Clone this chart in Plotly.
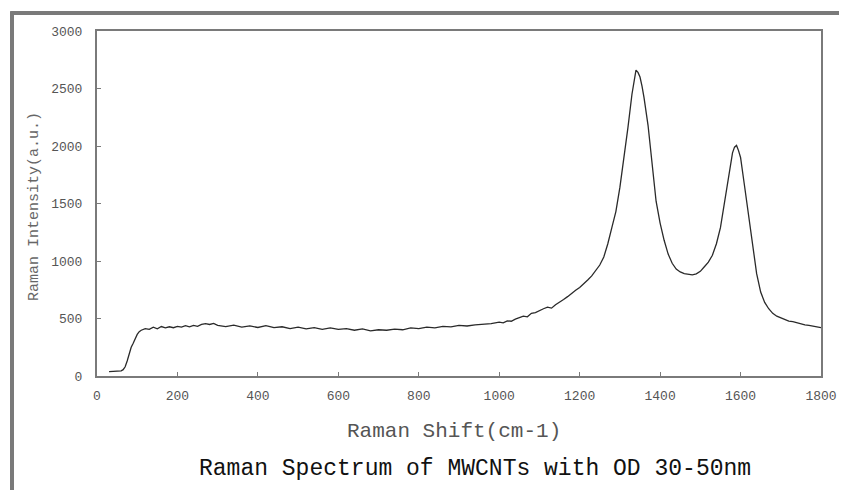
import plotly.graph_objects as go

raman_shift = [30, 40, 50, 60, 65, 70, 75, 80, 85, 90, 95, 100, 105, 110, 120, 130, 140, 150, 160, 170,
               180, 190, 200, 210, 220, 230, 240, 250, 260, 270, 280, 290, 300, 320, 340, 360, 380, 400,
               420, 440, 460, 480, 500, 520, 540, 560, 580, 600, 620, 640, 660, 680, 700, 720, 740, 760,
               780, 800, 820, 840, 860, 880, 900, 920, 940, 960, 980, 1000, 1010, 1020, 1030, 1040, 1050,
               1060, 1070, 1080, 1090, 1100, 1110, 1120, 1130, 1140, 1150, 1160, 1170, 1180, 1190,
               1200, 1210, 1220, 1230, 1240, 1250, 1260, 1270, 1280, 1290, 1300,
               1310, 1320, 1330, 1335, 1340, 1345, 1350, 1355, 1360, 1370, 1380, 1390, 1400, 1410, 1420,
               1430, 1440, 1450, 1460, 1470, 1480, 1490, 1500, 1510, 1520, 1530, 1540, 1550, 1560, 1570,
               1580, 1585, 1590, 1595, 1600, 1610, 1620, 1630, 1640, 1650, 1660, 1670, 1680, 1690, 1700,
               1710, 1720, 1730, 1740, 1750, 1760, 1770, 1780, 1790, 1800]
intensity = [38, 42, 40, 45, 55, 80, 130, 190, 250, 285, 330, 362, 385, 398, 412, 405, 425, 410, 430, 418,
             428, 420, 432, 425, 438, 428, 440, 432, 448, 455, 448, 458, 440, 430, 442, 425, 435, 422,
             438, 420, 428, 412, 425, 410, 420, 405, 418, 405, 412, 398, 410, 392, 402, 398, 408, 402,
             418, 412, 425, 418, 432, 428, 440, 435, 445, 450, 455, 468, 462, 480, 476, 495, 505,
             520, 515, 545, 552, 570, 585, 598, 590, 620, 640, 665, 690, 720, 745,
             770, 800, 835, 870, 915, 965, 1035, 1150, 1290, 1430, 1640,
             1890, 2160, 2450, 2560, 2660, 2640, 2600, 2520, 2420, 2180, 1820, 1520, 1330, 1180, 1060,
             980, 930, 905, 890, 885, 880, 888, 910, 950, 990, 1050, 1150, 1290, 1510, 1760,
             1940, 1990, 2005, 1960, 1900, 1650, 1380, 1130, 890, 730, 640, 585, 545, 520, 505,
             492, 478, 472, 462, 455, 445, 440, 432, 428, 420]

x_ticks = [0, 200, 400, 600, 800, 1000, 1200, 1400, 1600, 1800]
y_ticks = [0, 500, 1000, 1500, 2000, 2500, 3000]

title_text = "Raman Spectrum of MWCNTs with OD 30-50nm"
x_title = "Raman Shift(cm-1)"
y_title = "Raman Intensity(a.u.)"

fig = go.Figure()
fig.add_trace(go.Scatter(x=raman_shift, y=intensity, mode="lines",
                         line=dict(color="#2a2a2a", width=1.3), showlegend=False,
                         hoverinfo="x+y"))

axis_common = dict(showgrid=False, zeroline=False, showline=True, linecolor="#7a7a7a",
                   linewidth=2, mirror=True, ticks="inside", ticklen=4, tickcolor="#7a7a7a",
                   tickfont=dict(family="Liberation Mono", size=13, color="#555555"))

fig.update_xaxes(range=[0, 1800], tickvals=x_ticks, ticklabelstandoff=6, **axis_common)
fig.update_yaxes(range=[0, 3000], tickvals=y_ticks, ticklabelstandoff=10, **axis_common)

fig.update_layout(
    width=847, height=490,
    margin=dict(l=89, r=34, t=23, b=122),
    paper_bgcolor="white", plot_bgcolor="white",
    annotations=[
        dict(text=x_title, xref="paper", yref="paper", x=0.493, y=-0.162,
             xanchor="center", yanchor="middle", showarrow=False,
             font=dict(family="Liberation Mono", size=21, color="#555555")),
        dict(text=title_text, xref="paper", yref="paper", x=0.522, y=-0.27,
             xanchor="center", yanchor="middle", showarrow=False,
             font=dict(family="Liberation Mono", size=23, color="#111111")),
        dict(text=y_title, xref="paper", yref="paper", x=-0.0856, y=0.49,
             xanchor="center", yanchor="middle", showarrow=False, textangle=-90,
             font=dict(family="Liberation Mono", size=15, color="#666666")),
    ],
    shapes=[
        dict(type="line", xref="paper", yref="paper", x0=-0.1174, x1=-0.1174, y0=1.055, y1=-0.34,
             line=dict(color="#7a7a7a", width=4)),
        dict(type="line", xref="paper", yref="paper", x0=-0.12, x1=1.04, y0=1.052, y1=1.052,
             line=dict(color="#7a7a7a", width=4)),
    ],
)

fig.write_html("out.html")
